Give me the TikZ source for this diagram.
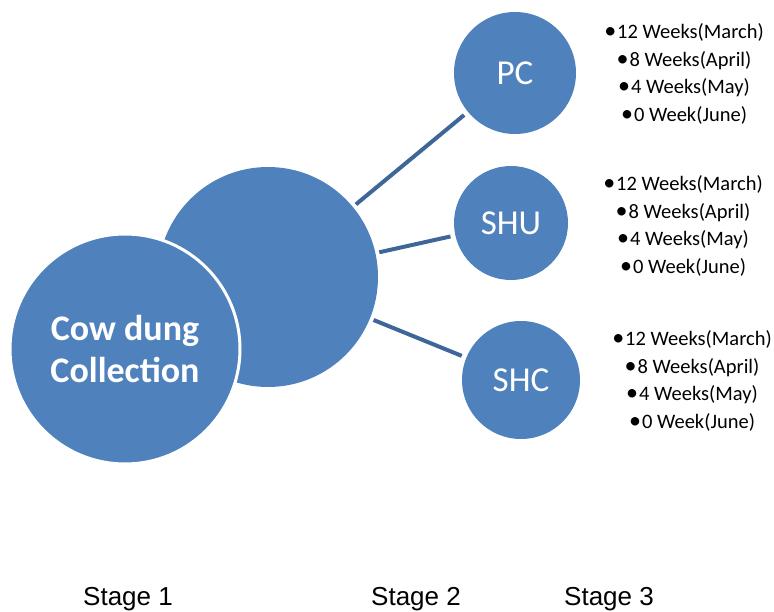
\documentclass[tikz,border=0pt]{standalone}
\usepackage{fontspec}
\setmainfont{Carlito}
\newfontfamily\stagefont{Liberation Sans}
\newcommand{\wkdot}{{\fontsize{24}{27.5}\selectfont•}\kern1pt}
\begin{document}
\definecolor{ballblue}{RGB}{79,129,189}
\definecolor{linkblue}{RGB}{62,102,152}
\begin{tikzpicture}[x=1pt,y=-1pt,
  ball/.style={circle, fill=ballblue, inner sep=0pt, outer sep=0pt, text=white},
  link/.style={linkblue, line width=4pt, shorten <=4pt, shorten >=5pt},
  weeks/.style={align=center, font=\fontsize{20.5}{27.5}\selectfont},
  stagelabel/.style={anchor=base, font=\stagefont\fontsize{26}{30}\selectfont}]
\useasboundingbox (0,0) rectangle (774,612);

% Stage 2 ball sits behind the collection ball
\node[ball, minimum size=220pt] (pool) at (268,277) {};

% Stage 1
\node[ball, minimum size=230pt, draw=white, line width=3pt,
      align=center, font=\bfseries\fontsize{36}{42}\selectfont] (collect) at (125,349) {Cow dung\\Collection};

% Stage 3
\node[ball, minimum size=122pt, font=\fontsize{35}{40}\selectfont] (pc) at (515,73) {PC};
\node[ball, minimum size=114pt, font=\fontsize{35}{40}\selectfont] (shu) at (511,223) {SHU};
\node[ball, minimum size=118pt, font=\fontsize{35}{40}\selectfont] (shc) at (521,380) {SHC};

\draw[link] (pool) -- (pc);
\draw[link] (pool) -- (shu);
\draw[link] (pool) -- (shc);

% sampling times
\node[weeks] (pcList) at (684,74) {\wkdot 12 Weeks(March)\\\wkdot 8 Weeks(April)\\\wkdot 4 Weeks(May)\\\wkdot 0 Week(June)};
\node[weeks] (shuList) at (683,226) {\wkdot 12 Weeks(March)\\\wkdot 8 Weeks(April)\\\wkdot 4 Weeks(May)\\\wkdot 0 Week(June)};
\node[weeks] (shcList) at (692,381) {\wkdot 12 Weeks(March)\\\wkdot 8 Weeks(April)\\\wkdot 4 Weeks(May)\\\wkdot 0 Week(June)};

\node[stagelabel] (stageOne) at (128,605) {Stage 1};
\node[stagelabel] (stageTwo) at (416,605) {Stage 2};
\node[stagelabel] (stageThree) at (609,605) {Stage 3};
\end{tikzpicture}
\end{document}
